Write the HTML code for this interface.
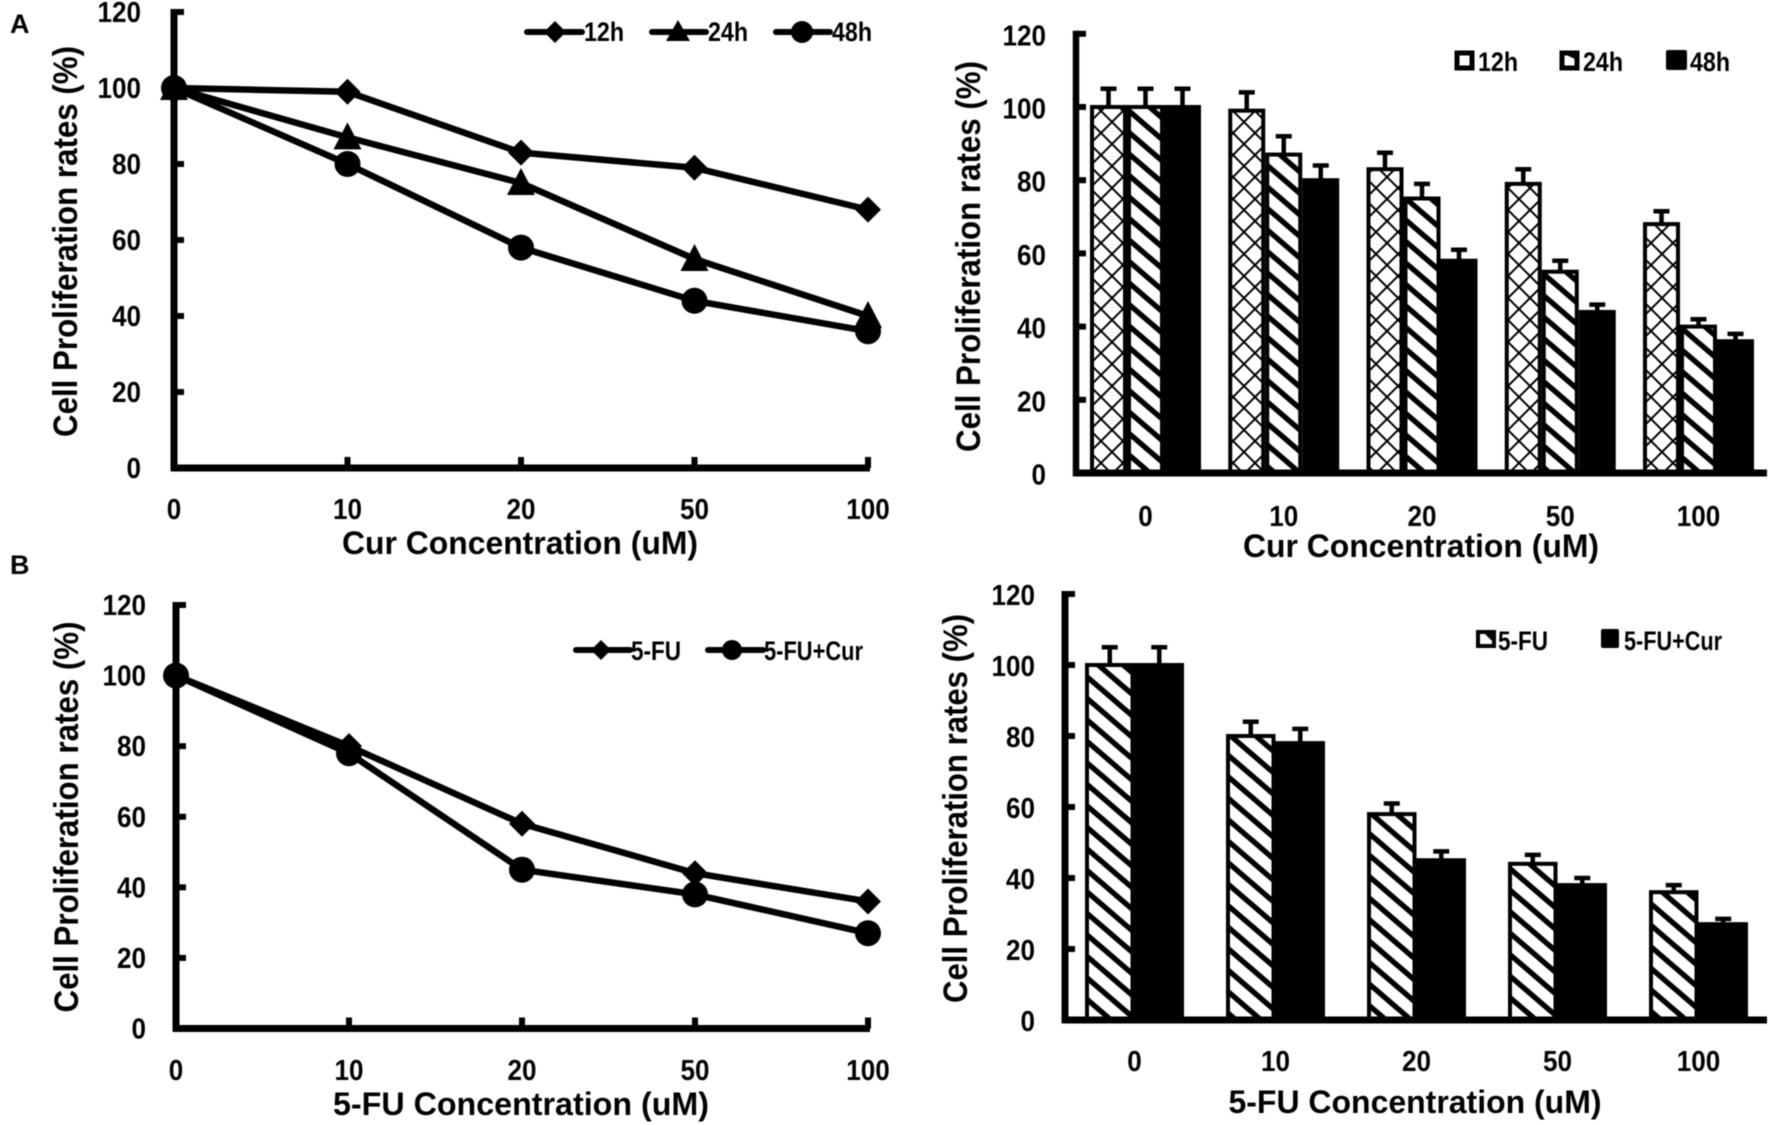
<!DOCTYPE html>
<html lang="en">
<head>
<meta charset="utf-8">
<title>Cell proliferation rates</title>
<style>
html,body{margin:0;padding:0;background:#fff;}
svg{display:block;filter:blur(0.5px);}
text{font-family:"Liberation Sans",sans-serif;font-weight:bold;fill:#000;}
</style>
</head>
<body>
<svg id="figure" xmlns="http://www.w3.org/2000/svg" width="1772" height="1125" viewBox="0 0 1772 1125">
<defs>
<pattern id="hatch-cross" width="22" height="22" patternUnits="userSpaceOnUse" x="1" y="1">
<path d="M-2,-2L24,24M24,-2L-2,24" stroke="#000" stroke-width="2" fill="none"/>
</pattern>
<pattern id="hatch-diag" width="25" height="21.5" patternUnits="userSpaceOnUse">
<path d="M-12.5,-10.75L37.5,32.25M-12.5,10.75L12.5,32.25M12.5,-10.75L37.5,10.75" stroke="#000" stroke-width="5.4" fill="none"/>
</pattern>
</defs>
<rect width="1772" height="1125" fill="#fff"/>

<text x="10" y="33" font-size="27">A</text>
<text x="10" y="574" font-size="27">B</text>

<g id="chart-a-line"></g>
<g id="chart-a-bar"></g>
<g id="chart-b-line"></g>
<g id="chart-b-bar"></g>

<text transform="translate(77,241.5) rotate(-90)" text-anchor="middle" font-size="34" textLength="391" lengthAdjust="spacingAndGlyphs">Cell Proliferation rates (%)</text>
<text x="520" y="554" text-anchor="middle" font-size="32" textLength="356" lengthAdjust="spacingAndGlyphs">Cur Concentration (uM)</text>
<text transform="translate(980,256.5) rotate(-90)" text-anchor="middle" font-size="34" textLength="391" lengthAdjust="spacingAndGlyphs">Cell Proliferation rates (%)</text>
<text x="1421" y="557" text-anchor="middle" font-size="32" textLength="356" lengthAdjust="spacingAndGlyphs">Cur Concentration (uM)</text>
<text transform="translate(78,817) rotate(-90)" text-anchor="middle" font-size="34" textLength="391" lengthAdjust="spacingAndGlyphs">Cell Proliferation rates (%)</text>
<text x="521" y="1115" text-anchor="middle" font-size="32" textLength="376" lengthAdjust="spacingAndGlyphs">5-FU Concentration (uM)</text>
<text transform="translate(967,808.5) rotate(-90)" text-anchor="middle" font-size="34" textLength="389" lengthAdjust="spacingAndGlyphs">Cell Proliferation rates (%)</text>
<text x="1415" y="1113" text-anchor="middle" font-size="32" textLength="373" lengthAdjust="spacingAndGlyphs">5-FU Concentration (uM)</text>

<g>
<path d="M527,32H582" stroke="#000" stroke-width="6" stroke-linecap="round"/>
<path d="M555,21L566,32L555,43L544,32Z"/>
<text x="584" y="41" font-size="27" textLength="40" lengthAdjust="spacingAndGlyphs">12h</text>
<path d="M652,32H706" stroke="#000" stroke-width="6" stroke-linecap="round"/>
<path d="M678,20L690,41H666Z"/>
<text x="708" y="41" font-size="27" textLength="40" lengthAdjust="spacingAndGlyphs">24h</text>
<path d="M776,32H830" stroke="#000" stroke-width="6" stroke-linecap="round"/>
<circle cx="802" cy="32" r="11"/>
<text x="832" y="41" font-size="27" textLength="40" lengthAdjust="spacingAndGlyphs">48h</text>
</g>

<g>
<rect x="1457" y="53" width="15" height="15" fill="#fff" stroke="#000" stroke-width="5"/>
<text x="1478" y="71" font-size="27" textLength="40" lengthAdjust="spacingAndGlyphs">12h</text>
<rect x="1562" y="53" width="15" height="15" fill="#fff" stroke="#000" stroke-width="5"/>
<path d="M1562,53L1577,53L1577,60Z"/>
<text x="1583" y="71" font-size="27" textLength="40" lengthAdjust="spacingAndGlyphs">24h</text>
<rect x="1666" y="50" width="21" height="20" rx="2"/>
<text x="1690" y="71" font-size="27" textLength="40" lengthAdjust="spacingAndGlyphs">48h</text>
</g>

<g>
<path d="M576,650H630" stroke="#000" stroke-width="6" stroke-linecap="round"/>
<path d="M601,640L611,650L601,660L591,650Z"/>
<text x="631" y="660" font-size="27" textLength="50" lengthAdjust="spacingAndGlyphs">5-FU</text>
<path d="M708,650H763" stroke="#000" stroke-width="6" stroke-linecap="round"/>
<circle cx="732" cy="650" r="10"/>
<text x="764" y="660" font-size="27" textLength="99" lengthAdjust="spacingAndGlyphs">5-FU+Cur</text>
</g>

<g>
<rect x="1478" y="632" width="16" height="14" fill="#fff" stroke="#000" stroke-width="4"/>
<path d="M1483,632L1494,632L1494,643Z"/>
<text x="1498" y="650" font-size="27" textLength="50" lengthAdjust="spacingAndGlyphs">5-FU</text>
<rect x="1601" y="629" width="18" height="19" rx="2"/>
<text x="1624" y="650" font-size="27" textLength="98" lengthAdjust="spacingAndGlyphs">5-FU+Cur</text>
</g>
</svg>

<script>
// ---- data ----
const concentrations = ['0', '10', '20', '50', '100'];
const yTicks = [0, 20, 40, 60, 80, 100, 120];

const cur12h = [100, 99, 83, 79, 68];
const cur24h = [100, 87, 75, 55, 40];
const cur48h = [100, 80, 58, 44, 36];
const cur12hErr = [5, 5, 4.5, 4, 3.5];
const cur24hErr = [5, 5, 4, 3, 2];
const cur48hErr = [5, 4, 3, 2, 2];

const fu = [100, 80, 58, 44, 36];
const fuCur = [100, 78, 45, 38, 27];
const fuErr = [5, 4, 3, 2.5, 2];
const fuCurErr = [5, 4, 2.5, 2, 1.5];

// ---- helpers ----
const SVGNS = 'http://www.w3.org/2000/svg';
function mk(parent, tag, attrs, content) {
  const el = document.createElementNS(SVGNS, tag);
  for (const k in attrs) el.setAttribute(k, attrs[k]);
  if (content !== undefined) el.textContent = content;
  parent.appendChild(el);
  return el;
}
function linearY(y0, y120) {
  return function (v) { return y0 + (y120 - y0) * v / 120; };
}
function tickLabelLen(s) { return s.length * 14.5; }

function drawAxes(g, cfg, y) {
  const axisY = mk(g, 'path', { d: 'M' + cfg.axisX + ',' + (y(120) - 3) + 'V' + (y(0) + 3), stroke: '#000', 'stroke-width': cfg.axisW, fill: 'none' });
  
  
  const axisB = mk(g, 'path', { d: 'M' + (cfg.axisX - 3) + ',' + y(0) + 'H' + cfg.axisEnd, stroke: '#000', 'stroke-width': cfg.baseW, fill: 'none' });
  
  
  yTicks.forEach(function (t) {
    const mark = mk(g, 'path', { d: 'M' + cfg.axisX + ',' + y(t) + 'H' + (cfg.axisX + 10), stroke: '#000', 'stroke-width': 6 });
    
    
    const lab = mk(g, 'text', { x: cfg.yLabelRight, y: y(t) + 10 + cfg.yLabelShift, 'text-anchor': 'end', 'font-size': 29, textLength: tickLabelLen(String(t)), lengthAdjust: 'spacingAndGlyphs' }, String(t));
    
    
  });
}

function xLabels(g, cfg, xAt) {
  concentrations.forEach(function (c, i) {
    const lab = mk(g, 'text', { x: xAt(i), y: cfg.xLabelY + 10, 'text-anchor': 'middle', 'font-size': 29, textLength: tickLabelLen(c), lengthAdjust: 'spacingAndGlyphs' }, c);
    
    
  });
}

function marker(g, kind, cx, cy) {
  let m;
  if (kind === 'diamond') {
    m = mk(g, 'path', { d: 'M' + cx + ',' + (cy - 13) + 'L' + (cx + 13) + ',' + cy + 'L' + cx + ',' + (cy + 13) + 'L' + (cx - 13) + ',' + cy + 'Z' });
  } else if (kind === 'triangle') {
    m = mk(g, 'path', { d: 'M' + cx + ',' + (cy - 15) + 'L' + (cx + 14) + ',' + (cy + 12) + 'L' + (cx - 14) + ',' + (cy + 12) + 'Z' });
  } else {
    m = mk(g, 'circle', { cx: cx, cy: cy, r: 13 });
  }
  return m;
}

function lineChart(id, cfg, series) {
  const g = document.getElementById(id);
  const y = linearY(cfg.y0, cfg.y120);
  const xAt = function (i) { return cfg.x0 + i * cfg.step; };
  drawAxes(g, cfg, y);
  concentrations.forEach(function (c, i) {
    if (i === 0) return;
    const mark = mk(g, 'path', { d: 'M' + xAt(i) + ',' + y(0) + 'V' + (y(0) - 11), stroke: '#000', 'stroke-width': 6 });
    
    
  });
  xLabels(g, cfg, xAt);
  series.forEach(function (s) {
    const pts = s.values.map(function (v, i) { return xAt(i) + ',' + y(v); }).join(' ');
    const line = mk(g, 'polyline', { points: pts, fill: 'none', stroke: '#000', 'stroke-width': 6.5, 'stroke-linejoin': 'round' });
    
    
  });
  series.forEach(function (s) {
    s.values.forEach(function (v, i) {
      const m = marker(g, s.kind, xAt(i), y(v));
      
      
    });
  });
}

function barChart(id, cfg, series) {
  const g = document.getElementById(id);
  const y = linearY(cfg.y0, cfg.y120);
  const xAt = function (i) { return cfg.x0 + i * cfg.step; };
  drawAxes(g, cfg, y);
  xLabels(g, cfg, xAt);
  const n = series.length;
  series.forEach(function (s, si) {
    s.values.forEach(function (v, i) {
      const left = xAt(i) - n * cfg.barW / 2 + si * cfg.barW;
      const cx = left + cfg.barW / 2;
      const errTop = y(v + s.err[i]);
      const stem = mk(g, 'path', { d: 'M' + cx + ',' + y(v) + 'V' + errTop + 'M' + (cx - 8) + ',' + errTop + 'H' + (cx + 8), stroke: '#000', 'stroke-width': 4.5, fill: 'none' });
      
      
    });
  });
  series.forEach(function (s, si) {
    s.values.forEach(function (v, i) {
      const left = xAt(i) - n * cfg.barW / 2 + si * cfg.barW;
      const bar = mk(g, 'rect', { x: left + 2, y: y(v), width: cfg.barW - 4, height: y(0) - y(v), fill: s.fill, stroke: '#000', 'stroke-width': 4 });
      
      
    });
  });
}

lineChart('chart-a-line',
  { axisX: 174, axisW: 7, baseW: 7, axisEnd: 870, y0: 468, y120: 12, x0: 174, step: 173.5, yLabelRight: 141, yLabelShift: 0, xLabelY: 509 },
  [
    { name: '12h', kind: 'diamond', values: cur12h },
    { name: '24h', kind: 'triangle', values: cur24h },
    { name: '48h', kind: 'circle', values: cur48h }
  ]);

barChart('chart-a-bar',
  { axisX: 1076, axisW: 6.5, baseW: 7, axisEnd: 1767, y0: 473, y120: 33.8, x0: 1145.5, step: 138.25, barW: 37, yLabelRight: 1046, yLabelShift: 1.5, xLabelY: 516 },
  [
    { name: '12h', fill: 'url(#hatch-cross)', values: cur12h, err: cur12hErr },
    { name: '24h', fill: 'url(#hatch-diag)', values: cur24h, err: cur24hErr },
    { name: '48h', fill: '#000', values: cur48h, err: cur48hErr }
  ]);

lineChart('chart-b-line',
  { axisX: 176, axisW: 7, baseW: 7, axisEnd: 870, y0: 1028.5, y120: 605, x0: 176, step: 173, yLabelRight: 146, yLabelShift: 0, xLabelY: 1070 },
  [
    { name: '5fu', kind: 'diamond', values: fu },
    { name: '5fu-cur', kind: 'circle', values: fuCur }
  ]);

barChart('chart-b-bar',
  { axisX: 1065, axisW: 7, baseW: 7, axisEnd: 1767, y0: 1020, y120: 594, x0: 1134.5, step: 141, barW: 49.5, yLabelRight: 1035, yLabelShift: 1, xLabelY: 1061 },
  [
    { name: '5fu', fill: 'url(#hatch-diag)', values: fu, err: fuErr },
    { name: '5fu-cur', fill: '#000', values: fuCur, err: fuCurErr }
  ]);
</script>
</body>
</html>
